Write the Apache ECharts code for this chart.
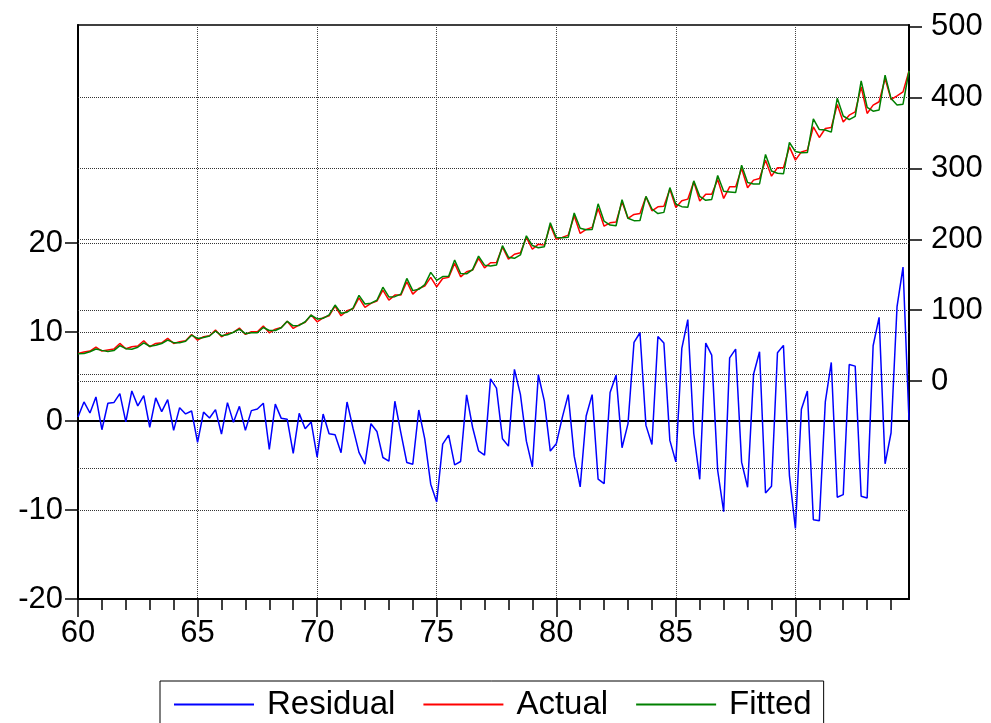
<!DOCTYPE html>
<html>
<head>
<meta charset="utf-8">
<script src="https://cdn.jsdelivr.net/npm/echarts@6/dist/echarts.min.js"></script>
<style>
html,body{margin:0;padding:0;background:#fff;}
#chart{width:991px;height:723px;}
</style>
</head>
<body>
<div id="chart"></div>
<script>
// Quarterly observations 1960Q1 - 1994Q4
const firstYear = 1960, lastYear = 1994;
const categories = [];
for (let y = firstYear; y <= lastYear; y++) {
  for (let q = 1; q <= 4; q++) categories.push(y + 'Q' + q);
}

const residual = [
  0.45, 2.14, 0.9, 2.7, -0.98, 2.0, 2.07, 3.08, -0.1, 3.38,
  1.7, 2.86, -0.7, 2.6, 1.05, 2.4, -1.05, 1.5, 0.8, 1.13,
  -2.4, 1.0, 0.34, 1.28, -1.47, 2.07, -0.15, 1.65, -1.05, 1.17,
  1.35, 2.0, -3.2, 1.9, 0.3, 0.19, -3.63, 0.86, -0.86, -0.11,
  -4.06, 0.79, -1.43, -1.54, -3.57, 2.14, -0.8, -3.53, -4.85, -0.3,
  -1.17, -4.1, -4.5, 2.22, -1.3, -4.66, -4.85, 1.24, -2.0, -7.1,
  -9.1, -2.6, -1.58, -4.92, -4.55, 2.93, -0.7, -3.35, -3.83, 4.74,
  3.7, -1.99, -2.82, 5.8, 3.0, -2.26, -5.15, 5.2, 2.26, -3.38,
  -2.56, 0.38, 2.97, -3.95, -7.4, 0.56, 2.97, -6.54, -7.03, 3.2,
  5.15, -3.0, -0.3, 8.83, 9.92, -0.49, -2.63, 9.5, 8.76, -2.18,
  -4.59, 8.16, 11.4, -1.4, -6.55, 8.75, 7.4, -5.56, -10.19, 7.1,
  8.08, -4.62, -7.44, 5.26, 7.78, -8.08, -7.33, 7.67, 8.5, -6.13,
  -12.07, 1.32, 3.38, -11.09, -11.2, 2.14, 6.58, -8.57, -8.27, 6.35,
  6.17, -8.46, -8.65, 8.46, 11.65, -4.81, -1.32, 12.86, 17.3, 0.08
];

const actual = [
  39.0, 40.9, 42.3, 48.0, 42.3, 43.7, 45.1, 53.1, 45.6, 48.4,
  49.4, 56.9, 48.4, 53.1, 54.0, 60.2, 53.1, 55.4, 56.9, 65.8,
  57.8, 62.5, 63.9, 71.9, 62.5, 67.3, 68.7, 74.8, 65.8, 69.5,
  69.5, 77.6, 68.1, 73.3, 75.5, 84.5, 74.3, 79.4, 82.8, 93.1,
  83.6, 89.3, 92.1, 105.8, 92.1, 99.2, 102.0, 117.5, 103.9, 109.6,
  112.8, 128.3, 114.2, 121.3, 121.3, 140.1, 122.7, 130.7, 134.0, 146.3,
  133.0, 144.8, 146.3, 166.0, 147.1, 154.2, 156.6, 173.0, 159.8, 166.9,
  167.4, 189.0, 172.0, 179.0, 181.0, 202.7, 186.0, 193.2, 191.8, 220.0,
  199.9, 202.7, 205.9, 233.1, 208.3, 214.0, 216.8, 243.6, 218.6, 223.3,
  224.3, 252.9, 229.5, 235.1, 236.5, 260.0, 240.2, 245.8, 246.8, 270.8,
  245.0, 254.3, 256.7, 281.1, 254.0, 263.7, 263.7, 284.5, 257.7, 274.0,
  274.0, 300.0, 272.7, 283.5, 285.9, 311.7, 289.1, 300.9, 300.9, 330.5,
  311.7, 323.4, 325.8, 358.7, 343.7, 356.4, 357.8, 390.3, 365.7, 375.2,
  379.8, 415.1, 377.6, 389.3, 394.1, 426.9, 397.3, 402.4, 408.0, 437.6
];

const fitted = [
  38.6, 38.8, 41.4, 45.3, 43.3, 41.7, 43.0, 50.0, 45.7, 45.0,
  47.7, 54.0, 49.1, 50.5, 53.0, 57.8, 54.2, 53.9, 56.1, 64.7,
  60.2, 61.5, 63.6, 70.6, 64.0, 65.2, 68.9, 73.2, 66.9, 68.3,
  68.2, 75.6, 71.3, 71.4, 75.2, 84.3, 77.9, 78.5, 83.7, 93.2,
  87.7, 88.5, 93.5, 107.3, 95.7, 97.1, 102.8, 121.0, 108.8, 109.9,
  114.0, 132.4, 118.7, 119.1, 122.6, 144.8, 127.6, 129.5, 136.0, 153.4,
  142.1, 147.4, 147.9, 170.9, 151.7, 151.3, 157.3, 176.4, 163.6, 162.2,
  163.7, 191.0, 174.8, 173.2, 178.0, 205.0, 191.2, 188.0, 189.5, 223.4,
  202.5, 202.3, 202.9, 237.1, 215.7, 213.4, 213.8, 250.1, 225.6, 220.1,
  219.2, 255.9, 229.8, 226.3, 226.6, 260.5, 242.8, 236.3, 238.0, 273.0,
  249.6, 246.1, 245.3, 282.5, 260.6, 255.0, 256.3, 290.1, 267.9, 266.9,
  265.9, 304.6, 280.1, 278.2, 278.1, 319.8, 296.4, 293.2, 292.4, 336.6,
  323.8, 322.1, 322.4, 369.8, 354.9, 354.3, 351.2, 398.9, 374.0, 368.9,
  373.6, 423.6, 386.3, 380.8, 382.5, 431.7, 398.6, 389.5, 390.7, 437.5
];

const leftTicks = [-20, -10, 0, 10, 20];
const rightTicks = [0, 100, 200, 300, 400, 500];
const leftGrid = [20, 10, -10];
const rightGrid = [0, 100, 200, 300, 400];
const seBand = 5.27;
const seriesNames = ['Residual', 'Actual', 'Fitted'];

const FONT = '"Liberation Sans", Arial, sans-serif';
const dotted = { color: '#333', type: [1, 1], width: 1 };

const chart = echarts.init(document.getElementById('chart'), null, { renderer: 'canvas' });

const leftMarks = leftGrid.map(v => ({ yAxis: v }))
  .concat([{ yAxis: seBand }, { yAxis: -seBand }])
  .concat([{ yAxis: 0, lineStyle: { type: 'solid', width: 2, color: '#000' } }]);

chart.setOption({
  backgroundColor: '#fff',
  animation: false,
  textStyle: { fontFamily: FONT },
  grid: {
    left: 78, right: 82, top: 25, bottom: 124,
    show: true, borderColor: '#000', borderWidth: 1.5, backgroundColor: 'transparent'
  },
  legend: {
    data: seriesNames,
    left: 160, top: 681,
    orient: 'horizontal',
    icon: 'rect',
    itemWidth: 80, itemHeight: 2, itemGap: 28,
    borderColor: '#000', borderWidth: 1,
    padding: [7, 12, 20, 14],
    textStyle: { fontSize: 33, color: '#000', fontFamily: FONT, padding: [0, 0, 0, 8] }
  },
  xAxis: [
    {
      type: 'category', data: categories, boundaryGap: false,
      axisLine: { show: true, onZero: false, lineStyle: { color: '#000', width: 2 } },
      axisTick: { show: true, interval: (i) => i % 4 === 0, length: 11, lineStyle: { color: '#000', width: 1.5 } },
      axisLabel: { show: false },
      splitLine: { show: true, interval: (i) => i % 20 === 0 && i > 0, lineStyle: { color: '#444', type: [1, 1], width: 1 } }
    },
    {
      type: 'category', data: categories, boundaryGap: false, position: 'bottom',
      axisLine: { show: false, onZero: false },
      axisTick: { show: true, interval: (i) => i % 20 === 0, length: 18, lineStyle: { color: '#000', width: 1.5 } },
      axisLabel: {
        interval: (i) => i % 20 === 0,
        formatter: (v) => v.substring(2, 4),
        fontSize: 31, color: '#000', margin: 19, fontFamily: FONT
      },
      splitLine: { show: false }
    }
  ],
  yAxis: [
    {
      type: 'value', min: -20, max: 44.5, position: 'left',
      axisLine: { show: true, lineStyle: { color: '#000', width: 2 } },
      axisTick: { show: true, customValues: leftTicks, length: 13, lineStyle: { color: '#000', width: 1.5 } },
      axisLabel: { customValues: leftTicks, fontSize: 31, color: '#000', margin: 15, fontFamily: FONT },
      splitLine: { show: false }
    },
    {
      type: 'value', min: -307.5, max: 502.4, position: 'right',
      axisLine: { show: true, lineStyle: { color: '#000', width: 2 } },
      axisTick: { show: true, customValues: rightTicks, length: 13, lineStyle: { color: '#000', width: 1.5 } },
      axisLabel: { customValues: rightTicks, fontSize: 31, color: '#000', margin: 22, fontFamily: FONT },
      splitLine: { show: false }
    }
  ],
  series: [
    {
      name: 'Residual', type: 'line', data: residual, xAxisIndex: 0, yAxisIndex: 0,
      symbol: 'none', showSymbol: false, z: 3,
      lineStyle: { color: '#0000ff', width: 1.5 }, itemStyle: { color: '#0000ff' },
      markLine: {
        silent: true, symbol: 'none', z: 1, animation: false,
        label: { show: false }, lineStyle: dotted, data: leftMarks
      }
    },
    {
      name: 'Actual', type: 'line', data: actual, xAxisIndex: 0, yAxisIndex: 1,
      symbol: 'none', showSymbol: false, z: 4,
      lineStyle: { color: '#ff0000', width: 1.5 }, itemStyle: { color: '#ff0000' },
      markLine: {
        silent: true, symbol: 'none', z: 1, animation: false,
        label: { show: false }, lineStyle: dotted, data: rightGrid.map(v => ({ yAxis: v }))
      }
    },
    {
      name: 'Fitted', type: 'line', data: fitted, xAxisIndex: 0, yAxisIndex: 1,
      symbol: 'none', showSymbol: false, z: 5,
      lineStyle: { color: '#008000', width: 1.5 }, itemStyle: { color: '#008000' }
    }
  ]
});
</script>
</body>
</html>
